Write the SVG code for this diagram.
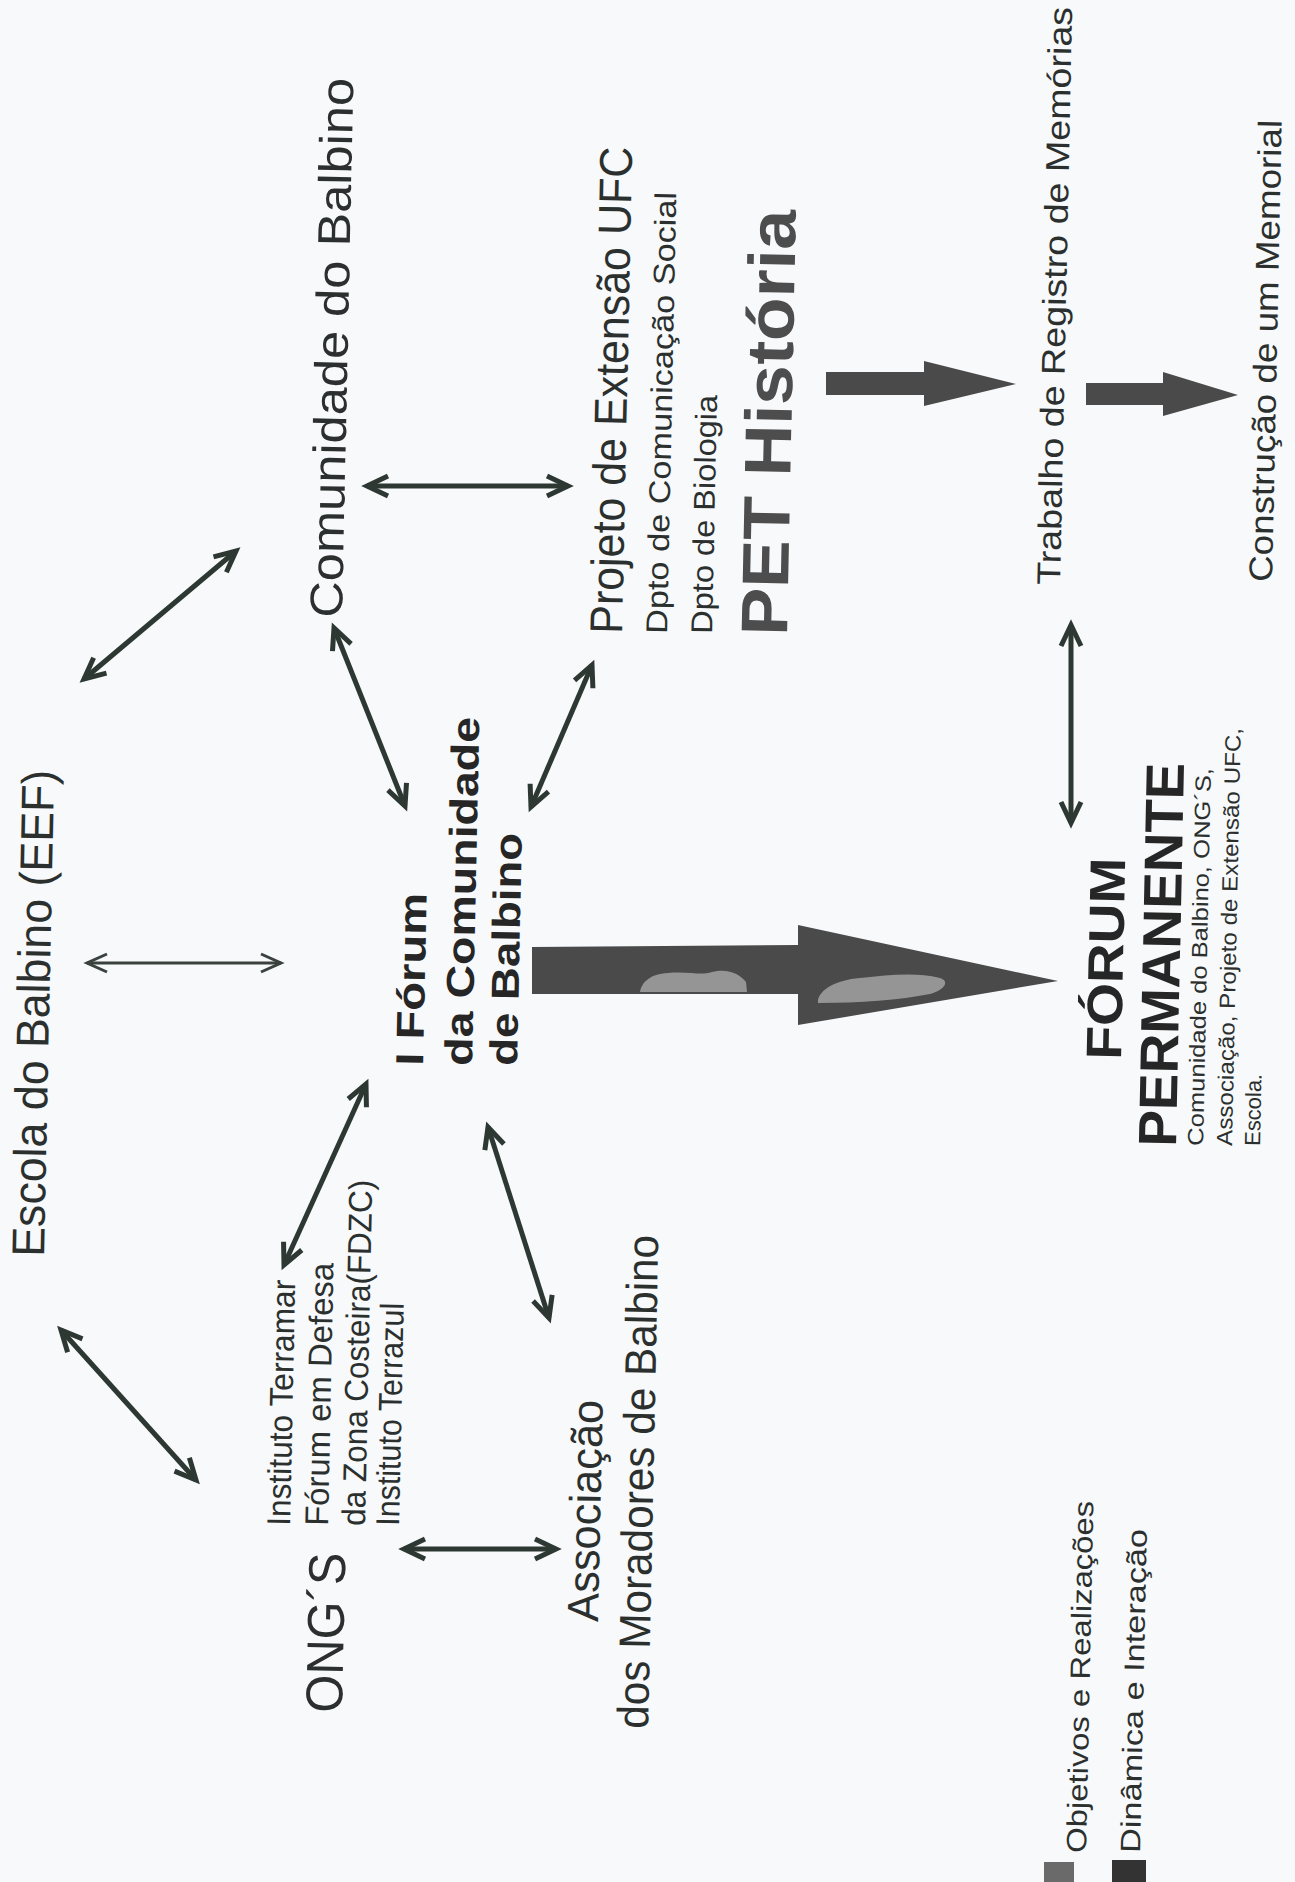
<svg xmlns="http://www.w3.org/2000/svg" width="1295" height="1882" viewBox="0 0 1295 1882">
<style>
.t{font-family:"Liberation Sans",Arial,sans-serif;fill:#2b302e;}
.b{font-family:"Liberation Sans",Arial,sans-serif;font-weight:bold;fill:#262626;}
.ln{stroke:#2e3833;stroke-width:5;fill:none;marker-start:url(#ah);marker-end:url(#ah);}
.thin{stroke:#3a423e;stroke-width:3;fill:none;marker-start:url(#aht);marker-end:url(#aht);}
.blk{fill:#4a4a4a;}
.patch{fill:#c8c8c8;opacity:0.6;}
</style>
<defs>
<marker id="ah" viewBox="-26 -14 32 28" refX="0" refY="0" markerWidth="32" markerHeight="28" markerUnits="userSpaceOnUse" orient="auto-start-reverse" overflow="visible">
<path d="M-21,-10 L0,0 L-21,10" fill="none" stroke="#2e3833" stroke-width="5"/>
</marker>
<marker id="aht" viewBox="-26 -14 32 28" refX="0" refY="0" markerWidth="32" markerHeight="28" markerUnits="userSpaceOnUse" orient="auto-start-reverse" overflow="visible">
<path d="M-20,-9 L0,0 L-20,9" fill="none" stroke="#3a423e" stroke-width="3"/>
</marker>
</defs>
<rect x="0" y="0" width="1295" height="1882" fill="#f7f9fb"/>

<g id="connectors">
<line class="ln" x1="84" y1="679" x2="236" y2="551"/>
<line class="ln" x1="367" y1="486" x2="568" y2="486"/>
<line class="ln" x1="334" y1="628" x2="405" y2="806"/>
<line class="ln" x1="592" y1="665" x2="531" y2="807"/>
<line class="thin" x1="87" y1="963" x2="281" y2="963"/>
<line class="ln" x1="366" y1="1084" x2="284" y2="1265"/>
<line class="ln" x1="488" y1="1127" x2="549" y2="1318"/>
<line class="ln" x1="61" y1="1330" x2="196" y2="1480"/>
<line class="ln" x1="404" y1="1549" x2="556" y2="1549"/>
<line class="ln" x1="1071" y1="625" x2="1071" y2="823"/>
<g id="big-arrow">
<polygon class="blk" points="532,947 798,945 798,925 1058,981 798,1025 798,994 532,994"/>
<path class="patch" d="M640,992 C642,982 650,974 668,973 C690,971 700,976 712,972 C728,968 740,974 746,982 L747,992 Z"/>
<path class="patch" d="M818,1000 C820,990 835,980 860,978 C890,975 915,972 940,978 C950,981 945,990 930,994 C900,1000 860,1003 818,1003 Z"/>
</g>
<polygon class="blk" points="826,372 924,372 924,361 1016,384 924,406 924,395 826,395"/>
<polygon class="blk" points="1086,383 1163,383 1163,372 1238,395 1163,416 1163,405 1086,405"/>
</g>

<g id="comunidade">
<text class="t" font-size="46" textLength="540" lengthAdjust="spacingAndGlyphs" transform="translate(342,618) rotate(-88.8)">Comunidade do Balbino</text>
</g>
<g id="escola">
<text class="t" font-size="46" textLength="487" lengthAdjust="spacingAndGlyphs" transform="translate(44,1257) rotate(-88.8)">Escola do Balbino (EEF)</text>
</g>
<g id="projeto">
<text class="t" font-size="46" textLength="487" lengthAdjust="spacingAndGlyphs" transform="translate(622,634) rotate(-88.8)">Projeto de Extensão UFC</text>
<text class="t" font-size="30" textLength="442" lengthAdjust="spacingAndGlyphs" transform="translate(667,634) rotate(-88.8)">Dpto de Comunicação Social</text>
<text class="t" font-size="30" textLength="239" lengthAdjust="spacingAndGlyphs" transform="translate(712,634) rotate(-88.8)">Dpto de Biologia</text>
<text class="b" font-size="66" style="fill:#4d4d4d" textLength="426" lengthAdjust="spacingAndGlyphs" transform="translate(787,636) rotate(-88.8)">PET História</text>
</g>
<g id="trabalho">
<text class="t" font-size="33" textLength="578" lengthAdjust="spacingAndGlyphs" transform="translate(1060,585) rotate(-88.8)">Trabalho de Registro de Memórias</text>
</g>
<g id="construcao">
<text class="t" font-size="33" textLength="462" lengthAdjust="spacingAndGlyphs" transform="translate(1272,582) rotate(-88.8)">Construção de um Memorial</text>
</g>
<g id="forum-i">
<text class="b" font-size="39" textLength="173" lengthAdjust="spacingAndGlyphs" transform="translate(423,1066) rotate(-88.8)">I Fórum</text>
<text class="b" font-size="39" textLength="349" lengthAdjust="spacingAndGlyphs" transform="translate(472,1066) rotate(-88.8)">da Comunidade</text>
<text class="b" font-size="39" textLength="233" lengthAdjust="spacingAndGlyphs" transform="translate(517,1066) rotate(-88.8)">de Balbino</text>
</g>
<g id="forum-permanente">
<text class="b" font-size="50" textLength="202" lengthAdjust="spacingAndGlyphs" transform="translate(1121,1060) rotate(-88.8)">FÓRUM</text>
<text class="b" font-size="54" textLength="384" lengthAdjust="spacingAndGlyphs" transform="translate(1176,1147) rotate(-88.8)">PERMANENTE</text>
<text class="t" font-size="22" textLength="378" lengthAdjust="spacingAndGlyphs" transform="translate(1203,1146) rotate(-88.8)">Comunidade do Balbino, ONG´S,</text>
<text class="t" font-size="22" textLength="418" lengthAdjust="spacingAndGlyphs" transform="translate(1232,1146) rotate(-88.8)">Associação, Projeto de Extensão UFC,</text>
<text class="t" font-size="22" textLength="72" lengthAdjust="spacingAndGlyphs" transform="translate(1260,1146) rotate(-88.8)">Escola.</text>
</g>
<g id="institutos">
<text class="t" font-size="33" textLength="246" lengthAdjust="spacingAndGlyphs" transform="translate(290,1526) rotate(-88.8)">Instituto Terramar</text>
<text class="t" font-size="33" textLength="263" lengthAdjust="spacingAndGlyphs" transform="translate(328,1526) rotate(-88.8)">Fórum em Defesa</text>
<text class="t" font-size="33" textLength="346" lengthAdjust="spacingAndGlyphs" transform="translate(365,1526) rotate(-88.8)">da Zona Costeira(FDZC)</text>
<text class="t" font-size="33" textLength="223" lengthAdjust="spacingAndGlyphs" transform="translate(399,1526) rotate(-88.8)">Instituto Terrazul</text>
</g>
<g id="ongs">
<text class="t" font-size="52" textLength="160" lengthAdjust="spacingAndGlyphs" transform="translate(342,1713) rotate(-88.8)">ONG´S</text>
</g>
<g id="associacao">
<text class="t" font-size="44" textLength="222" lengthAdjust="spacingAndGlyphs" transform="translate(598,1622) rotate(-88.8)">Associação</text>
<text class="t" font-size="44" textLength="494" lengthAdjust="spacingAndGlyphs" transform="translate(648,1729) rotate(-88.8)">dos Moradores de Balbino</text>
</g>
<g id="legenda">
<rect x="1044" y="1862" width="30" height="20" fill="#6a6a6a"/>
<rect x="1112" y="1860" width="34" height="22" fill="#333333"/>
<text class="t" font-size="28" textLength="352" lengthAdjust="spacingAndGlyphs" transform="translate(1086,1853) rotate(-88.8)">Objetivos e Realizações</text>
<text class="t" font-size="28" textLength="324" lengthAdjust="spacingAndGlyphs" transform="translate(1140,1853) rotate(-88.8)">Dinâmica e Interação</text>
</g>
</svg>
